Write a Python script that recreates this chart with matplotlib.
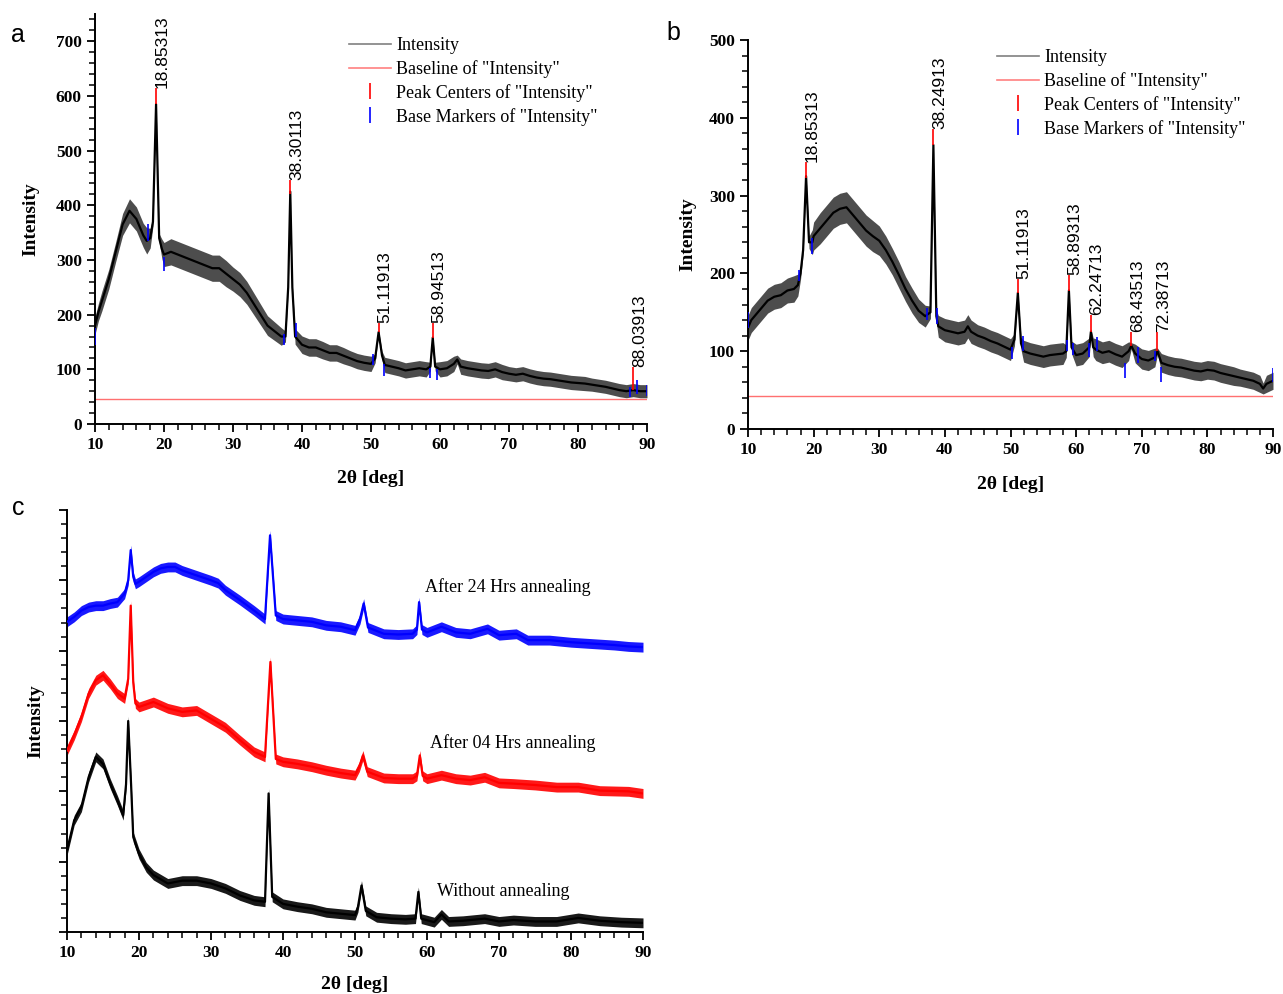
import numpy as np
import matplotlib
matplotlib.use("Agg")
import matplotlib.pyplot as plt
from matplotlib.lines import Line2D
from matplotlib.ticker import MultipleLocator, NullFormatter

SERIF = "Liberation Serif"
SANS = "Liberation Sans"

# ---------------- Panel a data ----------------
a_x = [10, 10.5, 11, 12, 13, 14, 15, 16, 17, 17.5, 18, 18.4, 18.85, 19.3, 19.7, 20, 21, 22, 23, 24, 25,
       26, 27, 28, 29, 30, 31, 32, 33, 34, 35, 36, 37, 37.6, 38.0, 38.3, 38.6, 39, 40, 41, 42, 43, 44,
       45, 46, 47, 48, 49, 50, 50.6, 51.1, 51.6, 52, 53, 54, 55, 56, 57, 58, 58.6, 58.95, 59.3, 60, 61,
       62, 62.5, 63, 64, 65, 66, 67, 68, 69, 70, 71, 72, 73, 74, 75, 76, 77, 78, 79, 80, 81, 82, 83, 84,
       85, 86, 87, 88, 89, 90]
a_y = [180, 205, 225, 265, 315, 365, 390, 375, 345, 335, 340, 370, 585, 340, 320, 310, 315, 310, 305, 300, 295,
       290, 285, 285, 275, 265, 255, 240, 220, 200, 180, 170, 160, 160, 250, 425, 250, 160, 145, 140, 140, 135, 130,
       130, 125, 120, 115, 112, 110, 120, 168, 125, 108, 105, 102, 98, 100, 102, 100, 105, 158, 105, 100, 102,
       110, 118, 105, 102, 100, 98, 97, 100, 95, 92, 90, 92, 88, 85, 83, 82, 80, 78, 76, 75, 74, 72, 70, 68,
       65, 62, 60, 62, 60, 60]
a_hw = [16, 16, 18, 18, 18, 20, 22, 22, 22, 24, 18, 8, 3, 8, 18, 22, 24, 24, 24, 24, 24,
        24, 24, 24, 24, 22, 22, 21, 20, 19, 18, 17, 16, 10, 4, 2, 4, 14, 16, 16, 16, 16, 15,
        15, 15, 14, 14, 14, 14, 8, 3, 8, 14, 14, 14, 14, 14, 14, 14, 8, 3, 8, 14, 14,
        14, 8, 14, 14, 14, 14, 14, 14, 14, 13, 13, 13, 13, 13, 13, 13, 13, 13, 13, 13, 13, 12, 12, 12,
        12, 12, 12, 12, 12, 12]
a_peak_x = [18.85313, 38.30113, 51.11913, 58.94513, 88.03913]
a_peak_lo = [585, 420, 168, 158, 62]
a_peak_hi = [615, 447, 185, 185, 105]
a_peak_lbl = ["18.85313", "38.30113", "51.11913", "58.94513", "88.03913"]
a_base_x = [10, 17.7, 20.0, 37.4, 39.2, 50.3, 51.9, 58.6, 59.6, 87.5, 88.6, 90]
a_base_lo = [145, 335, 280, 145, 160, 108, 88, 85, 80, 50, 55, 52]
a_base_hi = [175, 365, 305, 165, 185, 128, 110, 102, 100, 68, 80, 72]
a_baseline = 45

# ---------------- Panel b data ----------------
b_x = [10, 10.5, 11, 12, 13, 14, 15, 16, 17, 17.6, 18.0, 18.4, 18.85, 19.3, 19.8, 20, 21, 22, 23, 24, 25,
       26, 27, 28, 29, 30, 31, 32, 33, 34, 35, 36, 37, 37.8, 38.25, 38.7, 39, 40, 41, 42, 43, 43.5, 44, 45,
       46, 47, 48, 49, 50, 50.6, 51.12, 51.6, 52, 53, 54, 55, 56, 57, 58, 58.5, 58.9, 59.3, 60, 61, 62,
       62.25, 62.6, 63, 64, 65, 66, 67, 68, 68.4, 69, 70, 71, 72, 72.4, 73, 74, 75, 76, 77, 78, 79, 80,
       81, 82, 83, 84, 85, 86, 87, 88, 88.5, 89, 90]
b_y = [130, 140, 145, 155, 165, 170, 172, 178, 180, 185, 200, 230, 325, 240, 240, 248, 258, 268, 278, 283, 285,
       275, 265, 255, 248, 242, 230, 215, 198, 180, 165, 152, 145, 150, 365, 145, 132, 127, 125, 123, 125, 132, 125, 120,
       117, 113, 110, 106, 102, 115, 175, 110, 100, 97, 95, 93, 95, 96, 97, 100, 178, 105, 95, 97, 105,
       125, 105, 102, 98, 100, 96, 93, 100, 107, 97, 90, 88, 92, 100, 85, 82, 80, 79, 77, 75, 74, 76,
       75, 72, 70, 68, 66, 64, 62, 58, 52, 58, 62]
b_hw = [16, 16, 16, 16, 16, 16, 16, 16, 17, 14, 8, 6, 2, 8, 16, 18, 20, 20, 20, 20, 20,
        20, 20, 20, 20, 19, 18, 17, 17, 16, 16, 15, 14, 8, 2, 8, 14, 15, 15, 15, 15, 15, 15, 14,
        14, 14, 14, 14, 14, 8, 2, 8, 14, 14, 14, 14, 14, 14, 14, 8, 2, 8, 14, 14, 12,
        4, 12, 14, 14, 14, 14, 14, 12, 4, 12, 13, 13, 12, 4, 12, 12, 12, 12, 12, 12, 12, 12,
        12, 12, 12, 12, 11, 11, 11, 11, 7, 11, 11]
b_peak_x = [18.85313, 38.24913, 51.11913, 58.89313, 62.24713, 68.43513, 72.38713]
b_peak_lo = [322, 365, 175, 178, 125, 107, 100]
b_peak_hi = [343, 385, 193, 198, 147, 125, 125]
b_peak_lbl = ["18.85313", "38.24913", "51.11913", "58.89313", "62.24713", "68.43513", "72.38713"]
b_base_x = [10, 17.8, 19.8, 37.3, 38.8, 50.3, 51.9, 58.6, 59.5, 62.0, 63.2, 67.5, 69.5, 72.0, 73.0, 90]
b_base_lo = [130, 190, 225, 140, 135, 90, 100, 100, 95, 93, 100, 65, 85, 88, 60, 60]
b_base_hi = [150, 205, 245, 155, 155, 105, 120, 115, 110, 110, 118, 85, 105, 100, 80, 78]
b_baseline = 43

# ---------------- Panel c data ----------------
c0_x = [10, 11, 12, 13, 14, 15, 16, 17, 17.8, 18.2, 18.5, 18.9, 19.2, 20, 21, 22, 24, 26, 28, 30, 32, 34, 36,
        37.5, 38.0, 38.5, 40, 42, 44, 46, 48, 50, 50.4, 50.9, 51.5, 53, 55, 57, 58.4, 58.8, 59.2, 61, 62, 63,
        65, 68, 70, 72, 75, 78, 81, 84, 87, 90]
c0_y = [1.16, 1.59, 1.78, 2.20, 2.49, 2.39, 2.11, 1.87, 1.66, 2.10, 3.00, 2.10, 1.35, 1.11, 0.92, 0.81, 0.69,
        0.73, 0.73, 0.69, 0.62, 0.52, 0.45, 0.43, 1.97, 0.50, 0.40, 0.36, 0.33, 0.28, 0.26, 0.24, 0.35, 0.66,
        0.30, 0.21, 0.19, 0.18, 0.19, 0.57, 0.19, 0.14, 0.25, 0.15, 0.16, 0.19, 0.15, 0.17, 0.15, 0.15, 0.20,
        0.16, 0.14, 0.13]
c1_x = [10, 11, 12, 13, 14, 15, 16, 17, 18, 18.5, 18.85, 19.2, 19.5, 20, 22, 24, 26, 28, 30, 32, 34, 36, 37.5,
        38.25, 39, 40, 42, 44, 46, 48, 50, 50.6, 51.1, 51.7, 54, 56, 58, 58.6, 59.0, 59.4, 60, 62, 64, 66, 68,
        70, 72, 75, 78, 81, 84, 88, 90]
c1_y = [2.58, 2.80, 3.06, 3.39, 3.58, 3.65, 3.53, 3.39, 3.32, 3.60, 4.64, 3.55, 3.25, 3.20, 3.27, 3.18, 3.13,
        3.15, 3.03, 2.91, 2.73, 2.56, 2.49, 3.84, 2.46, 2.42, 2.39, 2.35, 2.30, 2.26, 2.23, 2.35, 2.51, 2.28,
        2.19, 2.18, 2.18, 2.22, 2.51, 2.22, 2.18, 2.23, 2.18, 2.16, 2.20, 2.12, 2.11, 2.09, 2.06, 2.06, 2.01,
        2.00, 1.97]
c2_x = [10, 11, 12, 13, 14, 15, 16, 17, 18, 18.5, 18.85, 19.2, 19.5, 20, 21, 22, 23, 24, 25, 26, 28, 30, 31,
        32, 34, 36, 37.5, 38.2, 39, 40, 42, 44, 46, 48, 50, 50.7, 51.2, 51.8, 54, 56, 58, 58.6, 58.9, 59.3, 60,
        62, 64, 66, 68.4, 70, 72.4, 74, 77, 80, 83, 86, 88, 90]
c2_y = [4.41, 4.48, 4.57, 4.62, 4.64, 4.64, 4.67, 4.69, 4.81, 5.00, 5.43, 5.05, 4.95, 4.98, 5.05, 5.12, 5.17,
        5.19, 5.19, 5.14, 5.07, 5.00, 4.96, 4.86, 4.72, 4.57, 4.45, 5.64, 4.50, 4.45, 4.43, 4.41, 4.36, 4.34,
        4.29, 4.45, 4.67, 4.33, 4.24, 4.23, 4.24, 4.30, 4.69, 4.30, 4.26, 4.34, 4.26, 4.24, 4.31, 4.22, 4.24,
        4.15, 4.15, 4.12, 4.10, 4.08, 4.06, 4.05]
c_hw = 0.07
c_labels = ["Without annealing", "After 04 Hrs annealing", "After 24 Hrs annealing"]
c_label_x = [70.6, 71.9, 71.2]
c_label_y = [0.58, 2.68, 4.91]
c_colors = ["black", "red", "blue"]

W, H = 1283, 994
fig = plt.figure(figsize=(W / 100, H / 100), dpi=100)


def box(l, t, r, b):
    return [l / W, 1 - b / H, (r - l) / W, (b - t) / H]


def style(ax, ymaj, ymin, ylabels=True, xpad=12, ypad=12):
    for s in ["top", "right"]:
        ax.spines[s].set_visible(False)
    for s in ["left", "bottom"]:
        ax.spines[s].set_linewidth(1.4)
    ax.set_xlim(10, 90)
    ax.xaxis.set_major_locator(MultipleLocator(10))
    ax.xaxis.set_minor_locator(MultipleLocator(2))
    ax.yaxis.set_major_locator(MultipleLocator(ymaj))
    ax.yaxis.set_minor_locator(MultipleLocator(ymin))
    ax.tick_params(which="major", direction="out", length=6, width=1.3, labelsize=12.5)
    ax.tick_params(which="minor", direction="out", length=4, width=1.1)
    for lab in ax.get_xticklabels() + ax.get_yticklabels():
        lab.set_fontfamily(SERIF)
        lab.set_fontweight("bold")
    if not ylabels:
        ax.yaxis.set_major_formatter(NullFormatter())
    ax.set_xlabel("2θ [deg]", fontfamily=SERIF, fontweight="bold", fontsize=14, labelpad=xpad)
    ax.set_ylabel("Intensity", fontfamily=SERIF, fontweight="bold", fontsize=14, labelpad=ypad)


def noisy(ax, x, y, hw, color, fill):
    x = np.asarray(x, float)
    y = np.asarray(y, float)
    hw = np.asarray(hw, float)
    ax.fill_between(x, y - hw, y + hw, color=fill, lw=0, alpha=0.9, zorder=2)
    ax.plot(x, y, color=color, lw=1.6, zorder=3)


def xrd_panel(ax, x, y, hw, pk_x, pk_lo, pk_hi, pk_lbl, bs_x, bs_lo, bs_hi, baseline, ymax, legend_pos):
    ax.axhline(baseline, color="#ff7070", lw=1.0, zorder=1)
    noisy(ax, x, y, hw, "black", "#3a3a3a")
    ax.vlines(bs_x, bs_lo, bs_hi, color="blue", lw=1.2, zorder=4)
    ax.vlines(pk_x, pk_lo, pk_hi, color="red", lw=1.2, zorder=4)
    for px, ph, pl in zip(pk_x, pk_hi, pk_lbl):
        ax.text(px - 0.2, ph, pl, rotation=90, ha="left", va="bottom",
                fontfamily=SANS, fontsize=12.5, zorder=5)
    ax.set_ylim(0, ymax)
    handles = [
        Line2D([], [], color="#808080", lw=1.2),
        Line2D([], [], color="#ff8080", lw=1.2),
        Line2D([], [], color="red", lw=0, marker="|", markersize=11, markeredgewidth=1.2),
        Line2D([], [], color="blue", lw=0, marker="|", markersize=11, markeredgewidth=1.2),
    ]
    labels = ["Intensity", 'Baseline of "Intensity"', 'Peak Centers of "Intensity"',
              'Base Markers of "Intensity"']
    ax.legend(handles, labels, loc="upper left", bbox_to_anchor=legend_pos,
              bbox_transform=fig.transFigure, frameon=False,
              prop={"family": SERIF, "size": 13}, handlelength=2.3, handletextpad=0.3,
              labelspacing=0.33, borderpad=0, borderaxespad=0)


# Panel a
ax_a = fig.add_axes(box(95, 14, 647, 424))
xrd_panel(ax_a, a_x, a_y, a_hw, a_peak_x, a_peak_lo, a_peak_hi, a_peak_lbl,
          a_base_x, a_base_lo, a_base_hi, a_baseline, 750, (349 / W, 1 - 37 / H))
style(ax_a, 100, 20, xpad=12, ypad=12)

# Panel b
ax_b = fig.add_axes(box(748, 40, 1273, 429))
xrd_panel(ax_b, b_x, b_y, b_hw, b_peak_x, b_peak_lo, b_peak_hi, b_peak_lbl,
          b_base_x, b_base_lo, b_base_hi, b_baseline, 500, (997 / W, 1 - 49 / H))
style(ax_b, 100, 20, xpad=13, ypad=9)

# Panel c
ax_c = fig.add_axes(box(67, 510, 643, 932))
for xs, ys, col in zip([c0_x, c1_x, c2_x], [c0_y, c1_y, c2_y], c_colors):
    noisy(ax_c, xs, ys, [c_hw] * len(xs), col, col)
for lbl, lx, ly in zip(c_labels, c_label_x, c_label_y):
    ax_c.text(lx, ly, lbl, ha="center", va="center", fontfamily=SERIF, fontsize=13)
ax_c.set_ylim(0, 6)
style(ax_c, 1, 0.2, ylabels=False, xpad=11, ypad=7)

# Panel letters
fig.text(18 / W, 1 - 35 / H, "a", fontfamily=SANS, fontsize=18, ha="center", va="center")
fig.text(673 / W, 1 - 33 / H, "b", fontfamily=SANS, fontsize=18, ha="center", va="center")
fig.text(18 / W, 1 - 508 / H, "c", fontfamily=SANS, fontsize=18, ha="center", va="center")

fig.savefig("out.png", dpi=100)
